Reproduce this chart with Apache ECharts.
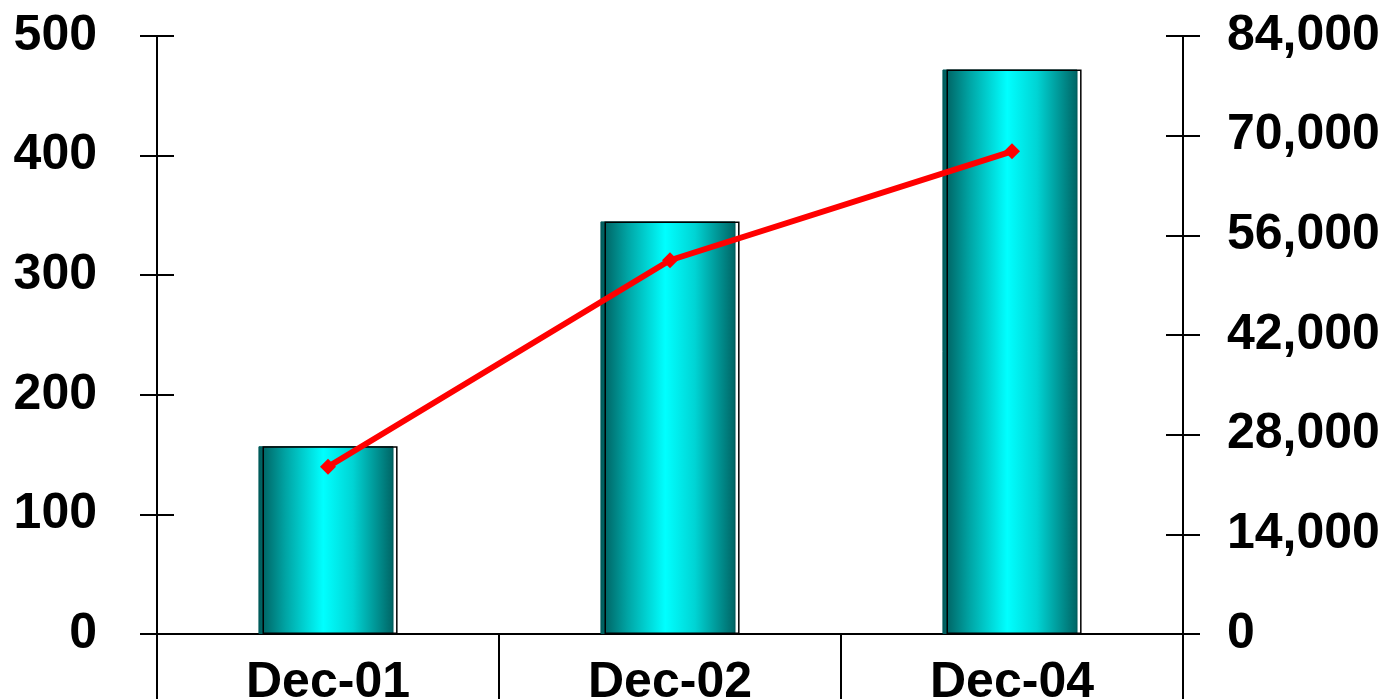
<!DOCTYPE html>
<html>
<head>
<meta charset="utf-8">
<script src="https://cdn.jsdelivr.net/npm/echarts@6/dist/echarts.min.js"></script>
<style>
html,body{margin:0;padding:0;background:#fff;}
#chart{width:1386px;height:699px;}
</style>
</head>
<body>
<div id="chart"></div>
<script>
var categories = ['Dec-01', 'Dec-02', 'Dec-04'];
var barValues = [157, 345, 472];
var lineValues = [23500, 52500, 67800];
var leftTicks = [0, 100, 200, 300, 400, 500];
var rightTicks = [0, 14000, 28000, 42000, 56000, 70000, 84000];

var FONT = 'Liberation Sans, Arial, Helvetica, sans-serif';
var chart = echarts.init(document.getElementById('chart'), null, {renderer: 'canvas'});

var barGrad = new echarts.graphic.LinearGradient(0, 0, 1, 0, [
  {offset: 0, color: '#005a5a'},
  {offset: 0.2, color: '#00a4a4'},
  {offset: 0.48, color: '#00ffff'},
  {offset: 0.7, color: '#00d4d4'},
  {offset: 1, color: '#006464'}
]);

function fmt(v) { return v.toString().replace(/\B(?=(\d{3})+(?!\d))/g, ','); }

var labelStyle = {color: '#000', fontFamily: FONT, fontWeight: 'bold', fontSize: 50};

chart.setOption({
  animation: false,
  backgroundColor: '#fff',
  grid: {left: 157, right: 203, top: 36, bottom: 65, containLabel: false, outerBoundsMode: 'none'},
  xAxis: {
    type: 'category',
    data: categories,
    boundaryGap: true,
    axisLine: {show: true, lineStyle: {color: '#000', width: 2}},
    axisTick: {show: true, length: 70, lineStyle: {color: '#000', width: 2}, alignWithLabel: false},
    axisLabel: Object.assign({margin: 24, interval: 0}, labelStyle),
    splitLine: {show: false}
  },
  yAxis: [
    {
      type: 'value', position: 'left', min: 0, max: 500, interval: 100,
      axisLine: {show: true, lineStyle: {color: '#000', width: 2}},
      axisTick: {show: true, length: 17, lineStyle: {color: '#000', width: 2}},
      axisLabel: Object.assign({margin: 60, formatter: function (v) { return leftTicks.indexOf(v) >= 0 ? fmt(v) : ''; }}, labelStyle),
      splitLine: {show: false}
    },
    {
      type: 'value', position: 'right', min: 0, max: 84000, interval: 14000,
      axisLine: {show: true, lineStyle: {color: '#000', width: 2}},
      axisTick: {show: true, length: 17, lineStyle: {color: '#000', width: 2}},
      axisLabel: Object.assign({margin: 44, formatter: function (v) { return rightTicks.indexOf(v) >= 0 ? fmt(v) : ''; }}, labelStyle),
      splitLine: {show: false}
    },
    {
      type: 'value', position: 'left', min: 0, max: 500, interval: 100,
      axisLine: {show: false},
      axisTick: {show: true, inside: true, length: 17, lineStyle: {color: '#000', width: 2}},
      axisLabel: {show: false}, splitLine: {show: false}
    },
    {
      type: 'value', position: 'right', min: 0, max: 84000, interval: 14000,
      axisLine: {show: false},
      axisTick: {show: true, inside: true, length: 17, lineStyle: {color: '#000', width: 2}},
      axisLabel: {show: false}, splitLine: {show: false}
    }
  ],
  series: [
    {
      name: 'bars', type: 'bar', yAxisIndex: 0, data: barValues,
      barWidth: '39.5%', barGap: '-97%', z: 2,
      itemStyle: {color: barGrad, borderColor: '#005a5a', borderWidth: 1}
    },
    {
      name: 'outline', type: 'bar', yAxisIndex: 0, data: barValues,
      barWidth: '39.5%', barGap: '-97%', z: 3, silent: true,
      itemStyle: {color: 'rgba(0,0,0,0)', borderColor: '#000', borderWidth: 1.5}
    },
    {
      name: 'line', type: 'line', yAxisIndex: 1, data: lineValues, z: 5,
      symbol: 'diamond', symbolSize: 16,
      lineStyle: {color: '#ff0000', width: 6},
      itemStyle: {color: '#ff0000'}
    }
  ]
});
</script>
</body>
</html>
